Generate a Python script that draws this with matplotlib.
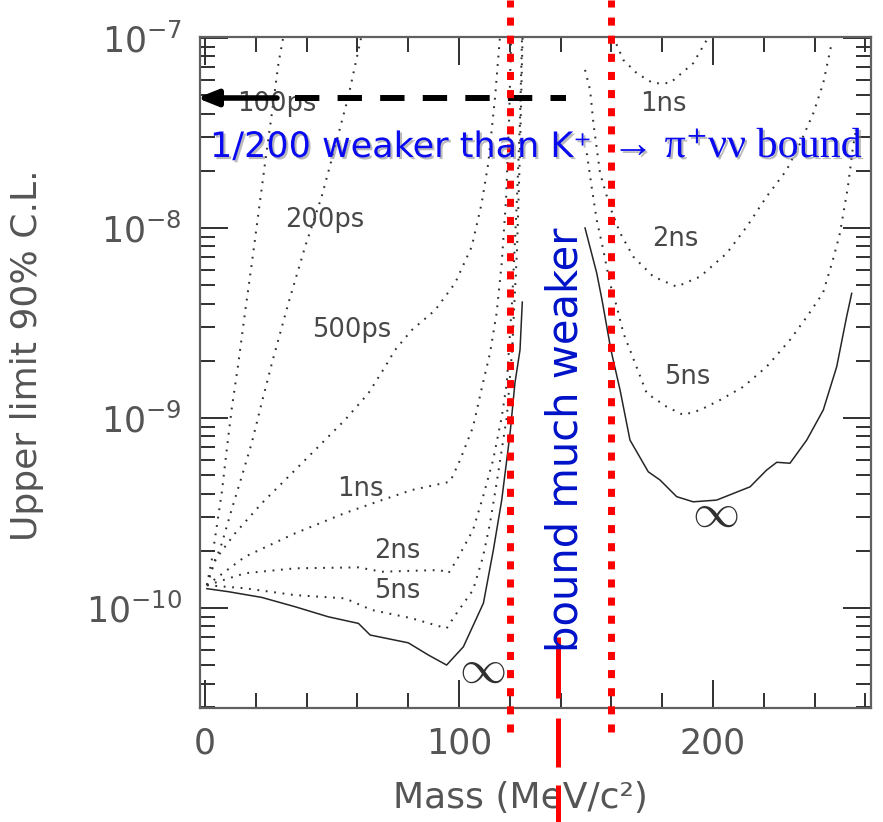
import matplotlib
matplotlib.use("Agg")
import numpy as np
import matplotlib.pyplot as plt
import matplotlib.patheffects as pe
from matplotlib.ticker import FixedLocator, MultipleLocator, LogLocator, NullFormatter

# ---------------- data (mass in MeV/c^2, log10 of upper limit) ----------------
m_100ps = [0.7, 2.6, 4.6, 6.6, 8.5, 10.5, 13.1, 15.7, 18.4, 21.0, 23.6, 26.3, 28.9, 30.8]
l_100ps = [-9.88, -9.75, -9.57, -9.39, -9.17, -8.95, -8.712, -8.447, -8.186, -7.923, -7.66, -7.396, -7.133, -6.995]

m_200ps = [0.7, 2.6, 6.6, 10.5, 14.4, 18.4, 22.3, 26.3, 32.8, 39.4, 45.9, 51.2, 56.4, 61.5]
l_200ps = [-9.88, -9.80, -9.66, -9.48, -9.31, -9.13, -8.92, -8.712, -8.396, -8.098, -7.835, -7.572, -7.309, -6.995]

m_500ps = [0.7, 3.9, 11.8, 22.3, 32.8, 44.6, 55.1, 64.3, 70.9, 74.8, 81.4, 90.6, 98.4, 105.0, 108.9, 111.5, 114.2, 116.1]
l_500ps = [-9.88, -9.747, -9.607, -9.449, -9.309, -9.151, -9.01, -8.87, -8.73, -8.642, -8.537, -8.432, -8.291, -8.098, -7.87, -7.66, -7.309, -6.995]

m_1ns_lo = [0.7, 15.7, 35.4, 55.1, 69.6, 81.4, 96.5, 100.4, 105.5, 109.4, 112.2, 114.8, 116.8, 118.5, 119.7, 120.5]
l_1ns_lo = [-9.88, -9.73, -9.607, -9.50, -9.432, -9.379, -9.335, -9.221, -9.047, -8.816, -8.658, -8.447, -8.184, -7.85, -7.43, -6.995]

m_2ns_lo = [0.7, 15.7, 35.4, 60.4, 69.6, 81.4, 92.5, 95.8, 99.1, 105.5, 109.4, 113.4, 116.8, 118.8, 120.9, 122.8, 124.0, 124.8]
l_2ns_lo = [-9.88, -9.817, -9.791, -9.786, -9.809, -9.804, -9.80, -9.817, -9.747, -9.589, -9.416, -9.221, -8.995, -8.816, -8.38, -7.85, -7.43, -6.995]

m_5ns_lo = [0.7, 15.7, 35.4, 55.1, 65.6, 81.4, 95.1, 99.1, 105.5, 109.4, 112.2, 114.8, 116.8, 118.8, 120.9, 122.8, 124.0, 125.0]
l_5ns_lo = [-9.88, -9.896, -9.932, -9.949, -10.01, -10.054, -10.107, -10.026, -9.905, -9.732, -9.553, -9.342, -9.168, -8.995, -8.64, -8.12, -7.59, -6.995]

m_inf_lo = [0.7, 9.2, 22.3, 35.4, 48.5, 60.4, 65.0, 80.0, 87.9, 95.1, 101.7, 109.6, 113.5, 116.8, 120.1, 122.0, 124.0, 124.9]
l_inf_lo = [-9.898, -9.914, -9.944, -9.993, -10.046, -10.081, -10.142, -10.183, -10.247, -10.30, -10.204, -9.974, -9.695, -9.432, -9.079, -8.816, -8.642, -8.39]

m_1ns_hi = [160.2, 162.1, 164.7, 170.0, 176.5, 183.1, 188.2, 192.2, 197.5]
l_1ns_hi = [-6.995, -7.037, -7.116, -7.186, -7.239, -7.237, -7.179, -7.133, -7.011]

m_2ns_hi = [149.6, 151.6, 152.9, 155.5, 159.4, 163.4, 168.6, 176.5, 185.7, 194.9, 205.4, 213.3, 221.1, 229.0, 234.3, 239.5, 243.4, 246.7]
l_2ns_hi = [-7.168, -7.274, -7.449, -7.711, -7.888, -8.026, -8.151, -8.256, -8.309, -8.256, -8.133, -7.993, -7.835, -7.695, -7.554, -7.396, -7.238, -7.028]

m_5ns_hi = [150.3, 152.2, 154.2, 156.8, 159.4, 162.1, 164.7, 167.3, 173.9, 181.8, 188.3, 194.9, 202.8, 212.0, 221.1, 230.3, 236.9, 243.3, 247.2, 250.0, 253.1, 255.1, 256.3]
l_5ns_hi = [-7.607, -7.783, -7.958, -8.116, -8.291, -8.414, -8.553, -8.642, -8.87, -8.941, -8.984, -8.958, -8.905, -8.835, -8.73, -8.589, -8.468, -8.342, -8.168, -8.026, -7.784, -7.574, -7.484]

m_inf_hi = [149.6, 154.2, 156.3, 159.8, 163.4, 167.3, 174.5, 179.1, 185.7, 192.2, 201.4, 214.6, 221.1, 225.1, 230.3, 236.9, 243.4, 248.7, 252.6, 254.6]
l_inf_hi = [-8.0, -8.237, -8.379, -8.642, -8.853, -9.116, -9.283, -9.326, -9.414, -9.441, -9.432, -9.362, -9.274, -9.233, -9.238, -9.116, -8.958, -8.73, -8.467, -8.344]

dotted_curves = [(m_100ps, l_100ps), (m_200ps, l_200ps), (m_500ps, l_500ps),
                 (m_1ns_lo, l_1ns_lo), (m_2ns_lo, l_2ns_lo), (m_5ns_lo, l_5ns_lo),
                 (m_1ns_hi, l_1ns_hi), (m_2ns_hi, l_2ns_hi), (m_5ns_hi, l_5ns_hi)]
solid_curves = [(m_inf_lo, l_inf_lo), (m_inf_hi, l_inf_hi)]

# curve labels: text, mass, log10(limit)
curve_labels = ["100ps", "200ps", "500ps", "1ns", "2ns", "5ns", "1ns", "2ns", "5ns"]
label_mass = [28.3, 47.2, 57.9, 61.0, 75.6, 75.6, 180.3, 185.0, 189.8]
label_log = [-7.347, -7.958, -8.537, -9.374, -9.70, -9.911, -7.347, -8.058, -8.784]
inf_mass = [109.1, 200.8]
inf_log = [-10.33, -9.505]

# kinematic window markers (MeV/c^2)
window_mass = [120, 160]
x_ticks = [0, 100, 200]
xlim = (-2.0, 262.2)
ylim_log = (-10.526, -6.995)

W, H = 883, 822
fig = plt.figure(figsize=(W / 100, H / 100), dpi=100)
ax = fig.add_axes([200 / W, 1 - 708 / H, 671 / W, 671 / H])
ax.set_yscale("log")
ax.set_xlim(*xlim)
ax.set_ylim(10 ** ylim_log[0], 10 ** ylim_log[1])

for m, l in dotted_curves:
    ax.plot(m, 10 ** np.array(l), color="#303030", lw=1.45, dashes=(0.9, 3.3), zorder=2)
for m, l in solid_curves:
    ax.plot(m, 10 ** np.array(l), color="#262626", lw=1.1, zorder=2)

for t, xm, yl in zip(curve_labels, label_mass, label_log):
    ax.text(xm, 10 ** yl, t, ha="center", va="center", fontsize=18.5, color="#484848", zorder=3)
for xm, yl in zip(inf_mass, inf_log):
    ax.text(xm, 10 ** yl, r"$\infty$", ha="center", va="center", fontsize=34,
            math_fontfamily="cm", color="#303030", zorder=3)

# red dotted vertical window lines (extend beyond the axes)
for xm in window_mass:
    ax.plot([xm, xm], [10 ** -10.653, 10 ** -6.8], color="#ff0000", lw=5,
            dashes=(1.16, 1.45), solid_capstyle="butt", clip_on=False, zorder=5)

# dashed arrow at the K+ -> pi+ nu nu level
arrow_level = 10 ** -7.316
ax.plot([35.4, 142.1], [arrow_level, arrow_level], color="black", lw=4.3,
        dashes=(4.08, 3.05), clip_on=False, zorder=4)
ax.annotate("", xy=(-3.15, arrow_level), xytext=(28.3, arrow_level),
            arrowprops=dict(arrowstyle="-|>,head_length=0.75,head_width=0.3", lw=4.0,
                            color="black", shrinkA=0, shrinkB=0, mutation_scale=16),
            annotation_clip=False, zorder=4)

# red stroke under vertical text
for y0, y1 in [(-10.153, -10.474), (-10.579, -10.837), (-10.932, -11.2)]:
    ax.plot([139, 139], [10 ** y0, 10 ** y1], color="#ff0000", lw=3.6,
            solid_capstyle="butt", clip_on=False, zorder=7)

# axes styling
ax.xaxis.set_major_locator(FixedLocator(x_ticks))
ax.xaxis.set_minor_locator(MultipleLocator(20))
ax.yaxis.set_major_locator(LogLocator(base=10))
ax.yaxis.set_minor_locator(LogLocator(base=10, subs=np.arange(2, 10)))
ax.yaxis.set_minor_formatter(NullFormatter())
ax.tick_params(which="both", direction="in", top=True, right=True, color="#303030")
ax.tick_params(which="major", length=20, width=1.4, labelsize=25, labelcolor="#555555", pad=13)
ax.tick_params(which="minor", length=10.5, width=1.4)
for s in ax.spines.values():
    s.set_color("#606060")
    s.set_linewidth(1.6)

ax.set_xlabel("Mass (MeV/c\u00b2)", fontsize=26, color="#555555")
ax.xaxis.set_label_coords((520 - 200) / 671, (708 - 798) / 671)
ax.xaxis.label.set_verticalalignment("center")
ax.set_ylabel("Upper limit 90% C.L.", fontsize=26, color="#555555")
ax.yaxis.set_label_coords((27 - 200) / 671, (708 - 355) / 671)
ax.yaxis.label.set_verticalalignment("center")
ax.yaxis.label.set_horizontalalignment("center")

# blue annotation texts (figure pixel layout)
shadow = [pe.SimplePatchShadow(offset=(1.5, -1.5), shadow_rgbFace=(0.55, 0.55, 0.55), alpha=0.6), pe.Normal()]
t1 = fig.text(210 / W, 1 - 157 / H, "1/200 weaker than K\u207a", ha="left", va="baseline",
              fontsize=24, color="#0a0af0", family="DejaVu Sans", path_effects=shadow, zorder=6)
t2 = fig.text(612 / W, 1 - 157 / H, "\u2192 \u03c0\u207a\u03bd\u03bd bound", ha="left", va="baseline",
              fontsize=24, color="#0a0af0", family=["Liberation Serif", "DejaVu Serif"],
              path_effects=shadow, zorder=6)
t3 = fig.text(577 / W, 1 - 652 / H, "bound much weaker", ha="left", va="baseline",
              rotation=90, rotation_mode="anchor", fontsize=32, color="#0012c8",
              family="DejaVu Sans", zorder=6)

fig.canvas.draw()
r = fig.canvas.get_renderer()
for t, target, horiz in [(t1, 382, True), (t2, 250, True), (t3, 425, False)]:
    bb = t.get_window_extent(r)
    size = bb.width if horiz else bb.height
    t.set_fontsize(t.get_fontsize() * target / size)

fig.savefig("out.png", dpi=100)
